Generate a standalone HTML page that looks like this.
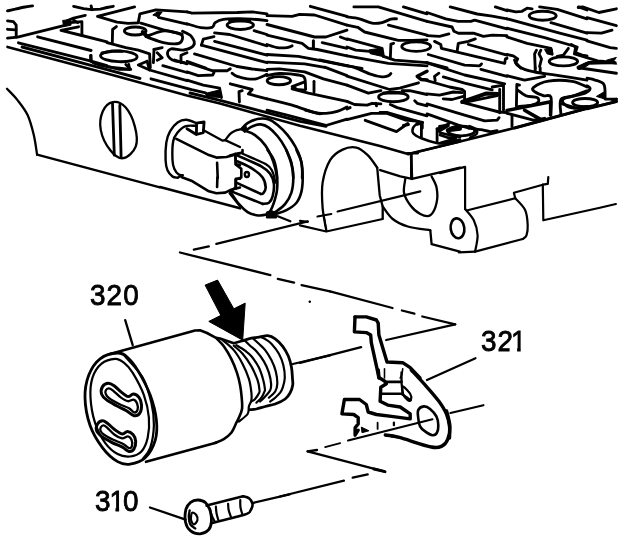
<!DOCTYPE html>
<html><head><meta charset="utf-8"><title>Valve body solenoid diagram</title>
<style>
html,body{margin:0;padding:0;background:#fff;}
body{width:640px;height:542px;overflow:hidden;font-family:"Liberation Sans",sans-serif;}
svg{display:block}
.l{fill:none;stroke:#000;stroke-width:2.3;stroke-linecap:round;stroke-linejoin:round}
.f{fill:#000;stroke:#000;stroke-width:1;stroke-linejoin:round}
text{font-family:"Liberation Sans",sans-serif;fill:#000}
</style></head><body>
<svg width="640" height="542" viewBox="0 0 640 542">
<rect width="640" height="542" fill="#fff"/>
<path class="l" style="stroke-width:2.85" d="M7.5,10.9 C8.8,10.6 12.2,9.8 15.1,9.2 C18.0,8.5 22.2,7.5 25.1,7.0 C28.0,6.5 31.4,6.1 32.6,5.9"/>
<path class="l" style="stroke-width:2.85" d="M73.6,6.4 L83.6,8.7 L91.6,9.7 L100.3,9.2 L107.0,7.5"/>
<path class="l" style="stroke-width:2.85" d="M91.1,5.9 L92.0,9.7"/>
<path class="l" style="stroke-width:2.85" d="M85.3,15.4 L73.6,18.1 L66.9,20.9"/>
<path class="f" d="M62.7,20.4 L70.2,19.7 L71.1,25.1 L63.5,26.8Z"/>
<path class="l" style="stroke-width:2.85" d="M70.2,22.6 L81.9,21.7 L81.9,35.5"/>
<path class="l" style="stroke-width:2.85" d="M73.6,20.1 L77.8,22.6"/>
<path class="l" style="stroke-width:2.85" d="M62.7,25.9 L17.6,37.1 L7.5,38.1"/>
<path class="l" style="stroke-width:2.85" d="M7.5,20.9 L13.4,21.7 L16.2,25.1 L16.2,37.1"/>
<path class="l" style="stroke-width:2.85" d="M7.5,29.3 L15.9,29.8"/>
<path class="l" style="stroke-width:2.85" d="M78.6,26.8 L61.0,30.4 L81.9,35.5 L107.0,41.8"/>
<path class="l" style="stroke-width:2.85" d="M37.6,36.8 L91.1,50.5"/>
<path class="l" style="stroke-width:2.85" d="M18.4,42.8 L91.1,61.2 L107.0,65.7"/>
<path class="l" style="stroke-width:2.85" d="M91.1,55.5 L91.1,61.5"/>
<path class="l" style="stroke-width:2.85" d="M107.0,7.5 L113.3,6.3"/>
<path class="l" style="stroke-width:2.85" d="M138.3,22.6 L139.9,13.8 L155.9,9.8 L187.0,11.9"/>
<path class="f" d="M152.8,15.0 L157.2,11.9 L162.2,11.9 L158.4,16.9Z"/>
<path class="l" style="stroke-width:2.85" d="M158.4,17.3 L187.0,24.1"/>
<path class="l" style="stroke-width:2.85" d="M140.9,23.2 L163.4,29.8 L182.2,34.1"/>
<ellipse class="l" style="stroke-width:2.85" cx="135.2" cy="31.0" rx="10.8" ry="4.0"/>
<path class="l" style="stroke-width:4" d="M142.7,32.0 L147.1,36.4"/>
<path class="l" style="stroke-width:2.85" d="M145.9,36.6 C148.6,35.7 157.4,31.8 162.2,31.1 C167.0,30.4 171.4,31.6 174.7,32.4 C178.0,33.2 181.1,34.1 182.2,35.7 C183.2,37.3 182.2,40.6 181.0,42.0 C179.8,43.4 177.6,43.8 174.7,43.9 C171.8,44.0 167.8,43.6 163.4,42.6 C159.0,41.6 150.9,38.4 148.4,37.6"/>
<path class="l" style="stroke-width:2.85" d="M116.4,26.6 L112.6,29.5 L112.3,43.3"/>
<path class="l" style="stroke-width:2.85" d="M107.0,42.6 L125.8,47.6 L138.3,50.2 L149.6,53.9 L150.3,67.7"/>
<path class="l" style="stroke-width:2.85" d="M154.0,49.5 L162.2,47.6"/>
<path class="l" style="stroke-width:2.85" d="M154.0,49.5 L153.4,62.7"/>
<path class="l" style="stroke-width:2.85" d="M157.2,52.7 L162.2,57.7 L157.2,60.2"/>
<path class="l" style="stroke-width:2.85" d="M181.0,62.7 L181.0,55.2 L187.0,52.7"/>
<path class="l" style="stroke-width:2.85" d="M187.0,11.9 L192.0,13.2 L237.2,12.5 L252.2,11.9 L267.0,13.8"/>
<path class="l" style="stroke-width:2.85" d="M187.0,23.8 C189.3,24.4 196.6,27.0 200.8,27.6 C205.0,28.2 209.7,28.1 212.1,27.3 C214.5,26.5 213.3,23.9 215.2,22.6 C217.1,21.3 219.3,20.1 223.4,19.4 C227.5,18.7 234.9,18.7 239.7,18.6 C244.5,18.6 247.6,18.8 252.2,19.1 C256.8,19.5 264.5,20.4 267.0,20.7"/>
<ellipse class="l" style="stroke-width:2.85" cx="240.3" cy="25.1" rx="13.2" ry="4.4"/>
<path class="l" style="stroke-width:3" d="M229.6,20.7 L249.7,20.7"/>
<path class="l" style="stroke-width:2.85" d="M214.6,32.9 L229.6,34.5 L267.0,45.8"/>
<path class="l" style="stroke-width:2.85" d="M254.1,30.7 L267.0,34.5"/>
<path class="l" style="stroke-width:2.85" d="M214.0,36.6 L203.3,39.1 L201.4,45.1"/>
<path class="l" style="stroke-width:2.85" d="M214.6,41.4 L267.0,55.2"/>
<path class="l" style="stroke-width:2.85" d="M201.4,45.1 L267.0,62.7"/>
<path class="l" style="stroke-width:2.85" d="M194.5,53.9 L237.2,66.5"/>
<path class="l" style="stroke-width:2.85" d="M187.0,61.4 L205.8,68.0"/>
<path class="l" style="stroke-width:2.85" d="M107.0,66.3 L119.5,69.4 L130.8,69.4 L125.8,64.4"/>
<path class="l" style="stroke-width:2.85" d="M147.1,61.3 L138.3,65.0 L149.6,70.0 L187.0,80.7"/>
<path class="l" style="stroke-width:2.85" d="M147.1,61.3 L149.6,70.0"/>
<path class="l" style="stroke-width:2.85" d="M162.8,65.6 L187.0,72.5"/>
<path class="l" style="stroke-width:2.85" d="M174.7,60.0 L187.0,63.8"/>
<path class="l" style="stroke-width:2.85" d="M187.0,62.5 L212.1,70.7 L227.1,70.7 L230.3,68.8"/>
<path class="l" style="stroke-width:2.85" d="M237.2,66.5 L252.2,69.0 L267.0,70.7"/>
<path class="l" style="stroke-width:2.85" d="M187.0,71.9 L198.3,75.7 L212.7,75.0 L214.0,72.5"/>
<path class="l" style="stroke-width:2.85" d="M232.1,73.2 C232.9,73.7 234.7,75.4 237.2,76.3 C239.7,77.2 244.1,78.4 247.2,78.8 C250.3,79.2 252.7,79.5 256.0,78.8 C259.3,78.1 265.2,75.1 267.0,74.4"/>
<path class="l" style="stroke-width:2.85" d="M187.0,80.1 L203.3,85.1 L219.6,88.2 L221.5,97.6"/>
<path class="f" d="M207.1,92.9 L214.0,91.3 L219.9,89.8 L221.1,97.6 L207.7,96.6Z"/>
<path class="l" style="stroke-width:2.85" d="M230.3,83.8 L252.2,89.5 L248.4,93.9 L267.0,98.9"/>
<path class="l" style="stroke-width:2.85" d="M242.2,90.7 L239.0,91.6 L239.4,102.0"/>
<path class="l" style="stroke-width:2.85" d="M310.3,6.3 L347.0,16.3"/>
<path class="l" style="stroke-width:2.85" d="M267.0,15.7 L292.1,16.3 L299.6,14.4 L314.6,15.0 L347.0,25.1"/>
<path class="l" style="stroke-width:2.85" d="M267.0,24.5 L314.6,37.0 L325.9,37.0 L347.0,30.1"/>
<path class="l" style="stroke-width:2.85" d="M267.0,35.1 L302.1,43.3 L308.4,48.3 L317.2,49.5 L347.0,55.8"/>
<path class="l" style="stroke-width:3" d="M313.4,40.8 L313.4,48.3"/>
<path class="l" style="stroke-width:2.85" d="M322.2,42.6 L347.0,48.3"/>
<path class="l" style="stroke-width:2.85" d="M340.4,37.0 L347.0,39.5"/>
<path class="l" style="stroke-width:2.85" d="M267.0,44.5 C268.7,45.0 273.6,47.1 277.0,47.6 C280.4,48.1 284.6,47.9 287.1,47.6 C289.6,47.3 291.3,46.1 292.1,45.8"/>
<path class="l" style="stroke-width:2.85" d="M267.0,54.5 L298.3,56.4 L324.7,61.4 L347.0,65.8"/>
<path class="l" style="stroke-width:2.85" d="M267.0,62.1 L304.6,63.9 L324.7,67.3"/>
<path class="l" style="stroke-width:2.85" d="M324.7,67.1 L347.0,75.7"/>
<path class="l" style="stroke-width:2.85" d="M319.7,60.0 L347.0,65.6"/>
<path class="l" style="stroke-width:2.85" d="M267.0,69.4 L279.5,68.8 L304.6,71.9 L323.4,78.8 L347.0,85.1"/>
<path class="l" style="stroke-width:2.85" d="M267.0,75.7 C269.1,75.3 274.3,73.6 279.5,73.5 C284.7,73.4 294.1,74.2 298.3,75.0 C302.5,75.8 303.4,75.8 304.6,78.2 C305.8,80.6 305.4,87.6 305.6,89.5"/>
<ellipse class="l" style="stroke-width:2.85" cx="278.9" cy="80.7" rx="11.7" ry="4.1"/>
<path class="l" style="stroke-width:2.85" d="M303.4,82.3 L292.1,86.6 L297.1,89.5 L304.6,90.1"/>
<path class="l" style="stroke-width:2.85" d="M314.0,81.3 L314.0,92.0"/>
<path class="l" style="stroke-width:2.85" d="M292.1,88.8 L308.4,93.2 L347.0,101.4"/>
<path class="l" style="stroke-width:2.85" d="M267.0,98.9 C271.2,99.9 284.2,102.8 292.1,105.1 C300.0,107.4 309.0,111.3 314.6,112.7 C320.2,114.1 322.1,113.5 325.9,113.3 C329.7,113.1 333.7,112.5 337.2,111.4 C340.7,110.4 345.4,107.7 347.0,107.0"/>
<path class="l" style="stroke-width:2.85" d="M267.0,110.2 L287.1,115.2 L325.9,125.5 L347.0,119.2"/>
<path class="l" style="stroke-width:2.85" d="M353.9,6.9 L378.3,6.9 L427.0,21.3"/>
<path class="l" style="stroke-width:2.85" d="M403.4,6.9 L427.0,13.8"/>
<path class="l" style="stroke-width:2.85" d="M347.0,16.9 C349.1,17.2 355.3,17.8 359.5,18.8 C363.7,19.9 368.3,22.6 372.1,23.2 C375.9,23.8 379.0,23.3 382.1,22.6 C385.2,21.9 388.5,19.7 390.9,19.1 C393.3,18.5 395.6,18.9 396.5,18.8"/>
<path class="l" style="stroke-width:2.85" d="M388.4,25.1 L427.0,35.1"/>
<path class="l" style="stroke-width:2.85" d="M347.0,25.1 L357.7,27.3 L364.6,32.0 L398.4,40.4 L412.2,40.4 L427.0,39.9"/>
<ellipse class="l" style="stroke-width:2.85" cx="416.2" cy="46.6" rx="14.4" ry="4.8"/>
<path class="l" style="stroke-width:2.85" d="M347.0,38.9 L382.1,48.3 L383.4,56.4"/>
<path class="f" d="M368.9,49.9 L382.1,48.0 L383.4,56.7 L370.2,53.7Z"/>
<path class="l" style="stroke-width:2.85" d="M393.6,43.3 L390.9,44.1 L390.3,58.9"/>
<path class="l" style="stroke-width:2.85" d="M347.0,47.0 L355.8,50.2 L369.6,51.4"/>
<path class="l" style="stroke-width:2.85" d="M347.0,55.8 L388.4,63.3 L427.0,65.8"/>
<path class="l" style="stroke-width:2.85" d="M383.4,56.4 L394.6,60.2 L427.0,62.7"/>
<path class="l" style="stroke-width:2.85" d="M347.0,65.8 L362.0,68.3"/>
<path class="l" style="stroke-width:2.85" d="M347.0,65.6 C348.2,65.9 350.7,65.9 354.5,67.3 C358.3,68.7 365.0,72.2 369.6,73.8 C374.2,75.4 379.0,76.6 382.1,76.9 C385.2,77.2 386.9,76.3 388.4,75.7 C389.9,75.1 390.5,73.9 390.9,73.5"/>
<path class="l" style="stroke-width:2.85" d="M347.0,76.1 L389.6,89.5 L399.7,88.2 L418.5,82.8"/>
<path class="l" style="stroke-width:2.85" d="M347.0,85.1 L368.3,93.2 L380.9,90.7"/>
<ellipse class="l" style="stroke-width:2.85" cx="393.4" cy="97.0" rx="14.8" ry="4.8"/>
<path class="l" style="stroke-width:3" d="M383.4,92.9 L403.4,92.9"/>
<path class="l" style="stroke-width:2.85" d="M402.2,90.7 L409.7,90.7 L427.0,94.5"/>
<path class="l" style="stroke-width:2.85" d="M347.0,101.4 L354.5,104.5 L367.1,105.1 L372.1,103.3 L380.9,103.9"/>
<path class="l" style="stroke-width:2.85" d="M375.8,103.3 L376.5,105.8"/>
<path class="l" style="stroke-width:2.85" d="M390.3,104.5 L397.2,107.6 L427.0,115.8"/>
<path class="l" style="stroke-width:2.85" d="M414.7,100.8 L417.2,103.3 L427.0,105.8"/>
<path class="l" style="stroke-width:2.85" d="M347.0,119.6 L371.5,113.3 L387.1,113.3 L405.9,120.2 L418.5,121.4"/>
<path class="l" style="stroke-width:3.5" d="M427.0,71.3 L417.2,76.3 L421.0,79.4 L427.0,80.1"/>
<path class="l" style="stroke-width:3" d="M347.0,108.9 L350.1,107.6"/>
<path class="l" style="stroke-width:3" d="M403.4,125.5 L408.4,124.6"/>
<path class="l" style="stroke-width:3" d="M417.2,124.2 L422.2,122.7 L422.2,128.0"/>
<path class="l" style="stroke-width:2.85" d="M450.2,6.9 L477.2,14.0 L492.2,16.1 L507.0,18.8"/>
<path class="l" style="stroke-width:2.85" d="M495.3,6.9 L507.0,10.7"/>
<path class="l" style="stroke-width:2.85" d="M427.0,12.5 L445.8,18.8 L458.3,21.3 L470.9,21.3 L474.6,20.1 L507.0,28.8"/>
<path class="l" style="stroke-width:2.85" d="M427.0,21.3 L452.1,27.0 L454.0,31.3 L458.3,33.2 L473.4,33.2 L483.4,36.4 L492.2,35.1 L507.0,35.7"/>
<path class="l" style="stroke-width:2.85" d="M427.0,35.7 L439.5,36.4 L448.9,33.9"/>
<path class="l" style="stroke-width:2.85" d="M475.3,38.9 L468.4,41.4 L458.3,43.3 L457.1,51.4"/>
<path class="l" style="stroke-width:2.85" d="M434.5,41.4 L440.8,44.5 L441.4,48.3 L504.7,63.3 L505.4,58.9 L507.0,58.3"/>
<path class="l" style="stroke-width:2.85" d="M468.4,44.5 L507.0,55.2"/>
<path class="l" style="stroke-width:2.85" d="M428.3,54.5 L464.6,65.2 L479.7,65.8 L481.5,63.9"/>
<path class="l" style="stroke-width:2.85" d="M427.0,62.7 L447.1,68.0"/>
<path class="l" style="stroke-width:2.85" d="M427.0,62.8 L464.6,75.0 L504.7,83.8"/>
<path class="l" style="stroke-width:2.85" d="M480.9,69.4 L507.0,76.3"/>
<path class="l" style="stroke-width:2.85" d="M438.9,73.2 L434.5,76.3 L435.2,80.7"/>
<path class="l" style="stroke-width:2.85" d="M427.0,80.7 L449.6,87.0 L462.1,89.5 L464.6,91.3 L464.6,100.1"/>
<path class="l" style="stroke-width:2.85" d="M443.3,76.9 L464.6,83.2 L492.2,89.8"/>
<path class="l" style="stroke-width:2.85" d="M492.2,87.0 L503.5,85.1 L503.5,110.2"/>
<path class="l" style="stroke-width:2.85" d="M499.7,89.5 L499.7,112.7"/>
<path class="l" style="stroke-width:2.85" d="M463.4,102.6 L499.1,112.0 L507.0,112.7"/>
<path class="l" style="stroke-width:4" d="M462.1,102.0 L485.9,93.6 L497.8,94.1"/>
<path class="l" style="stroke-width:2.85" d="M463.4,102.6 L497.2,95.7"/>
<path class="l" style="stroke-width:2.85" d="M427.0,93.9 L439.5,95.1 L453.3,92.0 L462.1,92.6"/>
<path class="l" style="stroke-width:2.85" d="M443.3,98.9 L452.1,99.5 L463.4,96.4"/>
<path class="l" style="stroke-width:2.85" d="M427.0,103.9 L464.6,115.2 L484.7,120.8 L497.2,120.2 L499.1,117.7"/>
<path class="l" style="stroke-width:2.85" d="M427.0,113.9 L458.3,125.2 L468.4,128.0"/>
<path class="l" style="stroke-width:2.85" d="M439.5,126.5 L447.1,125.2"/>
<path class="l" style="stroke-width:2.85" d="M507.0,10.0 L515.8,11.9 L522.0,11.3 L527.1,8.2 L532.1,8.8"/>
<path class="l" style="stroke-width:2.85" d="M539.6,6.9 L557.2,9.4 L587.0,18.8"/>
<ellipse class="l" style="stroke-width:2.85" cx="542.7" cy="15.7" rx="13.5" ry="4.5"/>
<path class="l" style="stroke-width:2.85" d="M578.5,6.9 L587.0,10.0"/>
<path class="l" style="stroke-width:2.85" d="M550.9,22.6 L587.0,33.2"/>
<path class="l" style="stroke-width:2.85" d="M507.0,18.8 L559.7,33.2 L587.0,40.1"/>
<path class="l" style="stroke-width:2.85" d="M507.0,28.2 L544.6,37.6 L577.2,47.0 L575.3,52.7 L582.2,55.2 L587.0,55.8"/>
<path class="l" style="stroke-width:2.85" d="M507.0,37.0 L527.1,43.3 L550.9,48.3 L552.1,53.9"/>
<path class="f" d="M544.6,49.5 L552.1,48.9 L552.8,55.2 L547.1,53.9Z"/>
<path class="l" style="stroke-width:2.85" d="M568.4,48.3 L563.4,55.2 L557.2,56.4"/>
<ellipse class="l" style="stroke-width:2.85" cx="563.4" cy="61.4" rx="14.2" ry="4.5"/>
<path class="l" style="stroke-width:2.85" d="M507.0,54.5 L513.3,55.8 L517.7,58.9 L515.8,62.7 L520.8,68.0"/>
<path class="l" style="stroke-width:2.85" d="M536.5,50.2 L534.6,53.9 L535.2,68.0"/>
<path class="l" style="stroke-width:2.85" d="M540.9,50.2 L539.0,53.9 L541.5,58.9 L539.6,66.5"/>
<path class="l" style="stroke-width:4" d="M579.7,68.0 L587.0,63.9"/>
<path class="l" style="stroke-width:2.85" d="M514.5,60.0 C514.9,60.8 515.3,63.4 517.0,65.0 C518.7,66.6 521.2,68.2 524.6,69.4 C528.0,70.7 531.7,71.5 537.1,72.5 C542.5,73.5 548.9,74.0 557.2,75.3 C565.5,76.6 582.0,79.3 587.0,80.1"/>
<path class="l" style="stroke-width:2.85" d="M540.2,67.8 L540.2,71.9"/>
<path class="l" style="stroke-width:2.85" d="M535.2,67.8 L535.2,71.9"/>
<path class="l" style="stroke-width:2.85" d="M507.0,75.7 L524.6,80.1 L544.6,76.3"/>
<path class="l" style="stroke-width:2.85" d="M550.9,115.2 C550.9,112.2 552.1,100.2 550.9,97.0 C549.6,93.8 546.0,96.5 543.4,95.7 C540.8,94.9 536.9,93.3 535.2,92.0 C533.5,90.7 531.1,89.4 533.3,87.6 C535.5,85.8 541.9,82.1 548.4,81.1 C554.9,80.0 565.8,80.3 572.2,81.3 C578.6,82.3 584.5,86.0 587.0,87.0"/>
<path class="l" style="stroke-width:2.85" d="M560.9,113.9 C560.9,111.5 559.0,102.4 560.9,99.5 C562.8,96.6 567.9,97.9 572.2,96.4 C576.6,94.9 584.5,91.7 587.0,90.7"/>
<path class="l" style="stroke-width:2.85" d="M519.5,85.1 L516.8,84.5 L516.4,106.4"/>
<path class="l" style="stroke-width:2.85" d="M517.7,90.1 C519.1,91.0 522.6,94.5 525.8,95.7 C529.0,97.0 535.0,96.5 537.1,97.6 C539.2,98.6 539.1,100.8 538.3,102.0 C537.5,103.2 535.4,104.3 532.1,105.1 C528.8,105.9 520.6,106.3 518.3,106.6"/>
<path class="l" style="stroke-width:3.5" d="M507.0,110.4 L549.6,102.0"/>
<path class="l" style="stroke-width:2.85" d="M550.3,102.0 L550.3,115.2"/>
<path class="l" style="stroke-width:3.6" d="M524.6,110.2 L539.6,118.9"/>
<path class="l" style="stroke-width:2.85" d="M512.0,115.2 L512.0,126.5"/>
<path class="l" style="stroke-width:2.85" d="M514.5,128.0 L587.0,108.3"/>
<path class="l" style="stroke-width:2.85" d="M507.0,113.3 L533.3,120.2 L544.6,118.3"/>
<path class="l" style="stroke-width:2.85" d="M562.2,103.9 L577.2,108.3 L587.0,106.4"/>
<path class="l" style="stroke-width:4" d="M578.5,67.5 L587.0,63.8"/>
<path class="l" style="stroke-width:2.85" d="M578.2,7.5 L582.6,6.9 L598.9,12.5 L616.4,8.8"/>
<path class="l" style="stroke-width:2.85" d="M587.0,17.6 L616.4,25.7"/>
<path class="l" style="stroke-width:2.85" d="M587.0,32.6 L601.4,33.2 L612.0,30.1"/>
<path class="l" style="stroke-width:2.85" d="M587.0,40.8 L610.2,47.6 L616.4,48.3"/>
<path class="l" style="stroke-width:2.85" d="M571.3,44.5 L575.7,47.0 L574.4,53.9 L597.6,60.8 L603.9,61.4"/>
<path class="f" d="M606.4,60.2 L616.4,57.4 L613.9,60.8 L616.7,64.2 L607.6,62.9Z"/>
<path class="l" style="stroke-width:3.5" d="M578.8,68.0 L588.8,62.7 L606.4,62.1"/>
<path class="l" style="stroke-width:2.9" d="M615.2,62.8 L588.8,63.1 L578.8,67.8 L616.4,73.2"/>
<path class="l" style="stroke-width:2.85" d="M587.0,78.2 C588.4,78.5 592.3,79.0 595.1,80.1 C597.9,81.1 602.2,81.6 603.9,84.5 C605.6,87.4 604.9,95.4 605.1,97.6"/>
<path class="l" style="stroke-width:2.85" d="M587.0,85.7 C587.5,86.2 590.4,87.5 590.1,88.8 C589.8,90.0 589.1,91.7 585.1,93.2 C581.1,94.7 570.1,96.2 566.3,97.6 C562.5,99.0 562.3,99.9 562.5,101.4 C562.7,102.9 565.4,105.2 567.5,106.4 C569.6,107.6 573.8,108.0 575.0,108.3"/>
<ellipse class="l" style="stroke-width:2.85" cx="585.1" cy="102.6" rx="12.5" ry="4.1"/>
<path class="f" d="M596.4,96.4 L603.9,92.0 L604.9,99.1Z"/>
<path class="l" style="stroke-width:2.85" d="M605.1,99.1 L616.4,99.1"/>
<path class="f" d="M610.2,99.1 L617.1,98.2 L617.1,102.0 L613.9,102.6Z"/>
<path class="l" style="stroke-width:2.85" d="M587.0,108.9 L616.4,101.6"/>
<path class="l" d="M7.0,88.8 C8.8,90.7 14.1,95.7 17.5,100.1 C20.9,104.5 24.9,109.3 27.6,115.1 C30.3,120.9 32.2,128.5 33.8,135.1 C35.4,141.7 36.5,151.4 37.1,154.7"/>
<path class="l" d="M37.1,154.7 L159.9,187.3"/>
<path class="l" d="M112.8,102.1 C116.5,101.4 121.6,103.0 125.3,107.1 C129.0,111.1 133.1,119.9 134.8,126.4 C136.6,133.0 137.7,141.1 135.8,146.4 C133.9,151.7 127.5,157.6 123.3,158.2 C119.0,158.8 114.0,154.9 110.3,150.2 C106.5,145.5 102.0,136.6 100.8,130.1 C99.5,123.6 100.8,116.0 102.8,111.3 C104.8,106.6 109.0,102.8 112.8,102.1Z"/>
<path class="l" style="stroke-width:2.8" d="M112.5,103.1 L114.3,155.2"/>
<path class="l" style="stroke-width:2.8" d="M119.8,105.1 L121.1,157.2"/>
<path class="l" style="stroke-width:2.4" d="M196.4,123.2 C194.7,122.6 189.4,119.9 186.3,119.8 C183.2,119.7 180.3,120.6 177.6,122.5 C174.9,124.4 171.9,128.0 170.0,131.3 C168.1,134.7 167.0,137.8 166.3,142.6 C165.6,147.4 165.4,155.6 165.6,160.2 C165.8,164.8 166.3,167.5 167.5,170.2 C168.7,172.9 170.8,175.2 172.5,176.5 C174.2,177.8 176.8,177.5 177.6,177.7"/>
<path class="l" style="stroke-width:2.4" d="M195.1,125.7 C193.4,125.8 188.0,125.2 185.1,126.3 C182.2,127.4 179.6,130.1 177.6,132.6 C175.6,135.1 174.0,136.7 173.2,141.3 C172.3,145.9 172.3,155.6 172.5,160.2 C172.7,164.8 173.3,166.5 174.4,168.9 C175.5,171.3 177.4,173.6 178.8,174.6 C180.2,175.6 182.0,175.1 182.6,175.2"/>
<path class="l" style="stroke-width:2.4" d="M177.6,177.7 L182.6,175.2"/>
<path class="l" style="stroke-width:2.85" d="M187.0,128.8 L196.4,134.5 L203.3,132.6 L204.1,121.9 L196.6,123.2 L196.4,134.5"/>
<path class="l" d="M204.5,130.7 L222.7,140.7 L225.2,140.1 L240.0,147.0"/>
<path class="l" d="M225.2,140.1 C226.0,139.1 228.5,135.4 230.2,133.8 C231.9,132.2 233.6,131.4 235.2,130.7 C236.8,130.0 239.2,129.6 240.0,129.4"/>
<path class="l" style="stroke-width:2.6" d="M176.3,138.8 L208.9,155.1 L216.4,157.6 L226.5,157.0 L240.0,153.3"/>
<path class="l" style="stroke-width:2.6" d="M217.1,162.7 L217.7,178.0"/>
<path class="l" style="stroke-width:2.6" d="M235.2,153.9 L235.9,163.9 L240.0,165.2"/>
<path class="l" style="stroke-width:2.85" d="M305.2,110.0 L320.0,113.8"/>
<path class="l" style="stroke-width:2.6" d="M241.3,129.4 C242.3,128.4 244.6,125.0 247.5,123.2 C250.4,121.4 255.2,119.4 258.8,118.8 C262.4,118.2 265.7,118.4 268.8,119.4 C271.9,120.4 274.5,122.4 277.6,125.0 C280.7,127.6 284.7,131.5 287.6,135.1 C290.5,138.7 293.1,142.7 295.2,146.4 C297.3,150.2 299.0,153.8 300.2,157.6 C301.4,161.3 301.8,165.5 302.1,168.9 C302.4,172.3 302.1,176.5 302.1,178.0"/>
<path class="l" style="stroke-width:2.6" d="M246.3,130.1 C247.3,129.5 250.1,127.2 252.5,126.3 C254.9,125.3 258.0,124.2 260.7,124.4 C263.4,124.6 266.0,125.6 268.8,127.6 C271.6,129.6 274.9,133.0 277.6,136.3 C280.3,139.6 283.0,143.6 285.1,147.6 C287.2,151.6 288.9,156.4 290.2,160.2 C291.5,164.0 292.2,167.2 292.7,170.2 C293.2,173.2 293.2,176.7 293.3,178.0"/>
<path class="l" style="stroke-width:2.6" d="M245.0,130.7 C246.7,131.4 251.7,132.7 255.0,135.1 C258.4,137.5 262.4,141.5 265.1,145.1 C267.8,148.7 269.6,152.6 271.3,156.4 C273.0,160.2 274.2,164.1 275.1,167.7 C276.1,171.3 276.7,176.3 277.0,178.0"/>
<path class="f" d="M240.6,128.8 L245.6,125.0 L247.5,130.7 L244.4,132.6Z"/>
<path class="l" style="stroke-width:2.6" d="M181.9,177.3 L191.3,180.7 L208.9,191.3 L216.4,193.2 L225.2,192.6 L230.2,190.1 L240.0,187.6"/>
<path class="l" style="stroke-width:2.6" d="M217.4,177.6 L217.1,187.0"/>
<path class="l" style="stroke-width:2.6" d="M160.0,187.0 L240.0,208.3"/>
<path class="l" style="stroke-width:2.2" d="M229.6,193.2 L240.0,206.4"/>
<path class="l" style="stroke-width:2.6" d="M235.9,188.8 L235.9,178.8 L240.0,178.8"/>
<path class="l" style="stroke-width:2.6" d="M296.5,150.0 C297.3,152.1 300.5,157.9 301.5,162.5 C302.5,167.1 302.7,172.8 302.7,177.6 C302.7,182.4 302.5,187.2 301.5,191.4 C300.5,195.6 299.0,199.6 296.5,202.7 C294.0,205.8 289.8,208.3 286.4,210.2 C283.0,212.1 278.1,213.3 276.4,213.9"/>
<path class="l" style="stroke-width:2.6" d="M286.4,150.0 C287.2,152.1 290.2,157.9 291.4,162.5 C292.5,167.1 293.3,172.6 293.3,177.6 C293.3,182.6 292.8,188.2 291.4,192.6 C290.0,197.0 287.7,200.8 285.2,203.9 C282.7,207.0 278.7,209.7 276.4,211.4 C274.1,213.1 272.2,213.5 271.4,213.9"/>
<path class="l" style="stroke-width:2.6" d="M267.6,150.0 C268.7,151.7 272.3,155.8 273.9,160.0 C275.5,164.2 276.5,170.1 277.0,175.1 C277.5,180.1 277.5,185.5 277.0,190.1 C276.5,194.7 275.0,199.1 273.9,202.7 C272.8,206.2 271.4,209.4 270.1,211.4 C268.9,213.4 268.7,214.0 266.4,214.6 C264.1,215.2 259.4,215.6 256.3,215.2 C253.2,214.8 250.5,214.0 247.6,212.1 C244.7,210.2 241.5,207.0 238.8,203.9 C236.1,200.8 232.6,195.1 231.3,193.3"/>
<path class="f" d="M266.4,212.1 L271.4,210.2 L276.6,213.3 L276.6,218.0 L266.4,218.0Z"/>
<path class="l" style="stroke-width:2.6" d="M237.5,155.6 C241.5,157.4 255.9,163.3 261.3,166.3 C266.7,169.3 268.0,170.9 270.1,173.8 C272.2,176.7 273.5,180.1 273.9,183.9 C274.3,187.7 273.4,193.3 272.6,196.4 C271.8,199.5 270.6,201.4 268.9,202.7 C267.2,203.9 263.7,203.7 262.6,203.9"/>
<path class="l" style="stroke-width:2.6" d="M262.6,203.9 L231.3,191.4"/>
<path class="l" d="M242.5,153.8 C246.5,155.6 261.4,161.4 266.4,164.4 C271.4,167.4 271.1,168.9 272.6,171.9 C274.1,174.9 274.9,180.8 275.4,182.6"/>
<path class="l" style="stroke-width:2.6" d="M237.5,161.3 C240.0,162.6 248.4,166.1 252.6,168.8 C256.8,171.5 260.4,174.5 262.6,177.6 C264.8,180.7 265.6,185.0 265.7,187.6 C265.8,190.2 264.0,192.2 263.2,193.3 C262.4,194.4 261.1,193.8 260.7,193.9"/>
<path class="l" style="stroke-width:2.6" d="M260.7,193.9 L236.3,182.6"/>
<path class="l" style="stroke-width:2.6" d="M242.5,150.0 L242.5,152.5 L235.6,154.0 L230.0,155.6"/>
<path class="l" style="stroke-width:2.6" d="M235.6,157.5 L235.6,164.4 L241.3,168.8 L241.3,177.6 L235.6,179.5 L235.6,187.6 L230.0,191.4"/>
<ellipse class="l" style="stroke-width:2.4" cx="246.9" cy="174.5" rx="2.1" ry="2.5"/>
<path class="l" style="stroke-width:2.6" d="M7.5,46.9 L107.0,73.4 L187.0,95.6 L220.0,103.6 L245.0,110.5 L300.0,125.8 L380.0,146.0 L408.0,154.0"/>
<path class="l" style="stroke-width:2.85" d="M22.0,47.0 L107.0,69.6 L140.0,78.5"/>
<path class="l" style="stroke-width:2.85" d="M190.0,93.0 L220.0,100.3 L300.0,121.3 L326.0,126.3"/>
<path class="l" style="stroke-width:2.85" d="M151.0,78.8 L191.6,89.7 L205.6,92.8 L207.5,95.5"/>
<path class="l" style="stroke-width:2.4" d="M408.3,154.1 L459.9,141.6"/>
<path class="l" style="stroke-width:2.6" d="M411.0,153.8 L412.0,178.9"/>
<path class="l" style="stroke-width:2.4" d="M380.2,170.1 L400.3,176.4 L412.0,178.9 L459.9,167.6"/>
<path class="l" d="M326.3,230.3 C325.7,226.5 323.2,215.6 322.6,207.7 C322.0,199.8 321.4,190.6 322.6,182.7 C323.9,174.8 326.8,165.6 330.1,160.1 C333.4,154.6 338.2,151.7 342.6,149.6 C347.0,147.5 352.2,146.7 356.4,147.6 C360.6,148.5 364.2,151.8 367.7,155.1 C371.2,158.4 375.6,165.5 377.2,167.6"/>
<path class="l" d="M377.2,167.6 L379.7,195.2 L382.7,206.5 L382.7,218.2"/>
<path class="l" d="M300.0,225.3 L326.3,231.5 L382.7,219.0"/>
<path class="l" style="stroke-width:2.2" d="M337.6,211.5 L420.3,191.4"/>
<path class="l" style="stroke-width:2.2" d="M317.5,216.5 L331.3,214.0"/>
<path class="l" style="stroke-width:2.2" d="M300.0,220.8 L307.5,221.8"/>
<path class="l" style="stroke-width:1.6" d="M324.3,218.2 L326.3,230.3"/>
<path class="l" d="M405.3,178.9 C405.1,181.2 403.2,188.3 404.0,192.7 C404.8,197.1 407.6,201.6 410.3,205.2 C413.0,208.8 417.0,212.3 420.3,214.0 C423.6,215.7 427.6,217.1 430.3,215.2 C433.0,213.3 435.6,207.3 436.6,202.7 C437.7,198.1 437.4,192.1 436.6,187.7 C435.8,183.3 432.4,178.3 431.6,176.4"/>
<path class="l" d="M382.7,206.5 C384.4,208.6 388.5,215.7 392.7,219.0 C396.9,222.3 401.5,224.6 407.8,226.5 C414.1,228.4 426.6,229.7 430.3,230.3"/>
<path class="l" d="M430.3,230.3 L431.6,244.1 L459.9,251.6"/>
<path class="l" style="stroke-width:2.6" d="M407.6,153.3 L417.6,153.3"/>
<path class="l" style="stroke-width:2.6" d="M411.3,153.9 L411.3,178.0"/>
<path class="l" style="stroke-width:2.6" d="M417.6,123.2 C416.9,123.9 413.9,125.9 413.2,127.6 C412.5,129.3 411.8,131.4 413.2,133.2 C414.6,135.0 417.5,136.6 421.4,138.2 C425.3,139.8 432.4,142.1 436.4,142.9 C440.4,143.7 441.3,143.8 445.2,143.2 C449.1,142.6 457.5,140.1 460.0,139.5"/>
<path class="l" style="stroke-width:2.8" d="M421.4,122.5 L421.4,137.0"/>
<path class="l" style="stroke-width:2.8" d="M437.1,128.8 L437.1,141.3"/>
<path class="l" style="stroke-width:2.85" d="M437.1,128.8 L442.7,127.6"/>
<path class="l" style="stroke-width:3" d="M438.9,131.1 L448.3,125.7"/>
<path class="l" style="stroke-width:4" d="M447.7,130.3 L460.0,128.8"/>
<path class="l" style="stroke-width:2.6" d="M440.2,132.8 L450.2,135.3 L460.0,137.0"/>
<path class="l" style="stroke-width:2.85" d="M380.0,112.5 L387.5,112.5 L417.6,121.3 L422.6,122.5"/>
<path class="l" style="stroke-width:2.2" d="M440.0,173.1 L465.1,166.9 L465.1,209.0"/>
<path class="l" style="stroke-width:2.2" d="M467.6,210.2 L515.2,198.2"/>
<path class="l" style="stroke-width:2.2" d="M475.1,251.6 L522.7,239.0"/>
<path class="l" style="stroke-width:2.2" d="M465.1,209.0 C466.6,210.9 471.7,215.9 473.8,220.3 C475.9,224.7 477.4,230.1 477.6,235.3 C477.8,240.5 475.5,248.9 475.1,251.6"/>
<path class="l" style="stroke-width:2.2" d="M515.2,198.2 C516.9,200.2 523.1,205.7 525.2,210.2 C527.3,214.7 527.5,221.1 527.7,225.3 C527.9,229.5 527.3,233.0 526.5,235.3 C525.7,237.6 523.3,238.4 522.7,239.0"/>
<path class="l" style="stroke-width:2.2" d="M515.2,198.2 L513.9,192.7 L542.8,184.7 L547.8,183.9 L548.3,177.1"/>
<path class="l" style="stroke-width:2.2" d="M542.8,184.7 L543.3,220.3 L599.9,207.7 L615.9,204.0"/>
<ellipse class="l" style="stroke-width:2.6" cx="457.5" cy="228.3" rx="6.8" ry="10.0" transform="rotate(-8 457.5 228.3)"/>
<path class="l" style="stroke-width:2.2" d="M458.8,252.3 L475.1,251.6"/>
<path class="l" style="stroke-width:2.6" d="M408.3,154.0 L460.0,141.5 L514.5,128.0 L587.0,108.5 L616.5,101.5"/>
<ellipse class="l" style="stroke-width:2.85" cx="461.3" cy="131.0" rx="13.5" ry="4.8"/>
<path class="l" style="stroke-width:2.6" d="M440.0,143.0 L455.7,138.6"/>
<path class="l" style="stroke-width:2.6" d="M469.5,126.1 C470.5,126.6 474.5,127.8 475.7,129.1 C476.9,130.4 477.5,132.5 476.6,133.9 C475.7,135.3 471.2,137.0 470.1,137.6"/>
<path class="l" style="stroke-width:2.85" d="M468.5,128.1 C470.6,128.4 477.8,129.1 481.4,129.7 C485.0,130.3 487.6,131.4 490.2,131.6 C492.8,131.8 496.0,130.8 497.1,130.7"/>
<path class="l" style="stroke-width:2.85" d="M440.0,128.6 L446.3,125.1 L448.8,123.8"/>
<path class="l" style="stroke-width:2.6" d="M440.0,135.1 L447.5,137.6 L456.3,137.6"/>
<path class="l" style="stroke-width:2.8" d="M117.6,353.0 C113.0,353.2 104.9,355.1 100.1,358.8 C95.3,362.5 91.3,368.6 88.8,375.1 C86.3,381.6 84.8,389.2 85.0,397.6 C85.2,406.0 87.1,416.8 90.0,425.2 C92.9,433.6 98.0,441.7 102.6,447.8 C107.2,453.9 113.0,458.9 117.6,461.6 C122.2,464.3 125.5,464.7 130.1,464.1 C134.7,463.5 141.0,461.8 145.2,457.8 C149.4,453.8 153.3,446.6 155.2,440.3 C157.1,434.0 157.2,427.7 156.4,420.2 C155.6,412.7 153.3,403.5 150.2,395.1 C147.1,386.8 141.4,376.4 137.6,370.1 C133.8,363.8 130.9,360.4 127.6,357.5 C124.3,354.6 122.2,352.8 117.6,353.0Z"/>
<path class="l" style="stroke-width:2.2" d="M115.1,358.8 C111.3,359.0 105.1,360.7 101.3,363.8 C97.5,366.9 94.3,372.0 92.5,377.6 C90.7,383.2 90.1,390.1 90.5,397.6 C90.9,405.1 92.6,415.2 95.0,422.7 C97.4,430.2 101.3,437.6 105.1,442.8 C108.9,448.0 113.4,451.7 117.6,454.0 C121.8,456.3 126.1,456.9 130.1,456.5 C134.1,456.1 138.5,454.6 141.4,451.5 C144.3,448.4 146.4,443.3 147.7,437.7 C148.9,432.1 149.5,424.8 148.9,417.7 C148.3,410.6 146.6,402.6 143.9,395.1 C141.2,387.6 135.9,378.0 132.6,372.6 C129.3,367.2 126.8,364.9 123.9,362.6 C121.0,360.3 118.9,358.6 115.1,358.8Z"/>
<path class="l" style="stroke-width:2.2" d="M125.1,356.3 C128.0,359.9 138.3,369.9 142.7,377.6 C147.1,385.3 149.5,394.8 151.4,402.7 C153.3,410.6 154.1,417.7 153.9,425.2 C153.7,432.7 152.1,442.2 150.2,447.8 C148.3,453.4 143.9,457.1 142.7,459.0"/>
<path class="l" style="stroke-width:2.6" d="M146.0,461.8 L216.0,442.8"/>
<path class="l" style="stroke-width:3" d="M102.5,386.6 C103.6,384.8 106.4,383.4 108.3,383.3 C110.2,383.2 111.9,384.3 114.1,385.8 C116.3,387.3 119.2,390.6 121.6,392.4 C123.9,394.2 126.3,396.3 128.2,396.6 C130.1,396.9 131.4,394.0 133.2,394.1 C135.0,394.2 137.6,395.6 139.0,397.4 C140.4,399.2 141.4,402.3 141.5,404.9 C141.6,407.5 141.1,411.4 139.8,413.2 C138.6,415.0 136.2,416.1 134.0,415.7 C131.8,415.3 129.4,412.4 126.5,410.7 C123.6,409.0 119.9,407.5 116.6,405.7 C113.3,403.9 109.1,401.8 106.6,399.9 C104.1,398.0 102.3,396.3 101.6,394.1 C100.9,391.9 101.4,388.4 102.5,386.6Z"/>
<path class="l" d="M105.8,390.3 C106.3,389.3 107.8,388.2 109.1,388.3 C110.3,388.4 111.4,389.3 113.3,390.8 C115.2,392.3 118.3,395.7 120.7,397.4 C123.1,399.1 125.8,400.8 127.9,401.2 C130.0,401.6 132.0,399.3 133.5,399.6 C135.0,399.9 136.3,401.5 137.0,403.2 C137.7,404.9 138.0,408.4 137.5,409.9 C137.0,411.4 135.6,412.7 134.2,412.4 C132.8,412.1 131.5,409.6 129.0,408.2 C126.5,406.8 122.4,405.8 119.1,404.1 C115.8,402.4 111.3,399.9 109.1,398.2 C106.9,396.5 106.3,395.4 105.8,394.1 C105.2,392.8 105.2,391.3 105.8,390.3Z"/>
<path class="l" style="stroke-width:3" d="M97.5,424.0 C98.5,422.4 100.8,420.8 102.5,420.7 C104.2,420.6 105.3,421.7 107.4,423.2 C109.5,424.7 112.4,428.0 114.9,429.8 C117.4,431.6 120.3,433.7 122.4,434.0 C124.5,434.3 125.6,431.4 127.4,431.5 C129.2,431.6 131.8,433.2 133.2,434.8 C134.6,436.4 135.6,439.0 135.7,441.4 C135.8,443.8 135.1,447.2 134.0,448.9 C132.9,450.6 130.9,451.7 129.0,451.4 C127.1,451.1 125.3,448.7 122.4,447.2 C119.5,445.7 115.1,444.1 111.6,442.3 C108.1,440.5 104.1,438.3 101.6,436.4 C99.1,434.4 97.3,432.7 96.6,430.6 C95.9,428.5 96.5,425.6 97.5,424.0Z"/>
<path class="l" d="M100.8,427.3 C101.3,426.4 102.5,425.2 103.6,425.3 C104.7,425.4 105.6,426.2 107.4,427.8 C109.2,429.4 112.1,433.0 114.6,434.8 C117.0,436.6 119.9,438.1 122.1,438.4 C124.3,438.7 126.3,436.2 127.9,436.4 C129.5,436.6 130.8,438.2 131.5,439.8 C132.2,441.4 132.3,444.7 131.9,446.1 C131.5,447.5 130.4,448.5 129.0,448.1 C127.5,447.7 125.8,445.3 123.2,443.9 C120.6,442.5 116.5,441.3 113.3,439.8 C110.1,438.3 106.2,436.3 104.1,434.8 C102.0,433.3 101.0,431.9 100.5,430.6 C100.0,429.4 100.3,428.2 100.8,427.3Z"/>
<path class="l" style="stroke-width:2.6" d="M110.0,354.0 L195.0,330.5 L200.0,330.3 L207.0,333.0 L216.0,337.8 L220.0,338.5 L233.8,343.2 L242.6,340.7"/>
<path class="l" d="M125.2,320.1 L132.7,345.2"/>
<path class="f" d="M205.1,285.1 L217.6,280.1 L233.9,308.9 L221.4,316.4Z"/>
<path class="f" d="M208.8,321.4 L245.2,303.1 L242.7,340.2Z"/>
<path class="l" style="stroke-width:2.6" d="M216.3,338.2 C217.6,339.6 221.3,342.9 223.8,346.3 C226.3,349.8 229.1,354.5 231.3,358.9 C233.5,363.3 235.4,368.2 236.9,372.6 C238.4,377.0 239.3,381.0 240.1,385.2 C240.9,389.4 241.4,393.7 241.7,397.7 C242.0,401.7 242.5,405.6 242.0,409.0 C241.5,412.4 239.8,415.5 238.8,417.8 C237.9,420.1 237.6,420.3 236.3,422.8 C235.1,425.3 233.4,430.1 231.3,432.8 C229.2,435.5 226.5,437.4 223.8,439.1 C221.1,440.8 216.5,442.3 215.0,442.9"/>
<path class="l" style="stroke-width:2.2" d="M222.5,340.0 C224.4,341.7 230.5,346.1 233.8,350.1 C237.2,354.1 240.1,359.1 242.6,363.9 C245.1,368.7 247.4,374.1 248.9,378.9 C250.4,383.7 251.0,389.1 251.4,392.7 C251.8,396.2 251.8,397.9 251.4,400.2 C251.0,402.5 249.5,404.2 248.9,406.5 C248.3,408.8 249.3,411.5 247.6,414.0 C245.9,416.5 240.3,420.3 238.8,421.6"/>
<path class="l" style="stroke-width:2.2" d="M233.8,345.7 C235.3,347.1 239.7,350.4 242.6,353.8 C245.5,357.2 248.9,362.0 251.4,366.4 C253.9,370.8 256.2,376.2 257.6,380.2 C259.0,384.2 259.3,388.0 259.5,390.2 C259.7,392.4 259.6,391.8 258.9,393.3 C258.2,394.8 256.3,397.6 255.1,399.0 C253.8,400.4 252.0,401.1 251.4,401.5"/>
<path class="l" style="stroke-width:2.2" d="M236.3,345.1 C237.8,346.0 242.6,348.8 245.1,350.7 C247.6,352.6 249.1,353.5 251.4,356.3 C253.7,359.1 256.9,363.6 258.9,367.6 C260.9,371.6 262.3,376.6 263.3,380.2 C264.3,383.8 264.7,387.0 264.9,388.9 C265.1,390.8 265.1,390.0 264.5,391.5 C263.9,393.0 262.8,395.8 261.4,397.7 C260.0,399.6 257.2,401.9 256.4,402.7"/>
<path class="l" style="stroke-width:2.2" d="M244.5,340.3 C245.4,341.2 248.1,343.9 250.1,345.7 C252.1,347.5 254.1,348.7 256.4,351.3 C258.7,353.9 261.8,357.8 263.9,361.4 C266.0,364.9 267.7,368.9 268.9,372.6 C270.1,376.4 270.9,381.0 271.1,383.9 C271.3,386.8 271.2,388.1 270.2,390.2 C269.2,392.3 266.9,394.6 265.2,396.5 C263.5,398.4 261.0,400.7 260.1,401.5"/>
<path class="l" style="stroke-width:2.2" d="M252.6,338.0 C253.6,339.0 256.8,341.8 258.9,343.8 C261.0,345.8 263.1,347.4 265.2,350.1 C267.3,352.8 269.6,356.6 271.4,360.1 C273.2,363.7 274.8,367.4 275.8,371.4 C276.8,375.4 277.4,380.5 277.3,383.9 C277.2,387.2 276.6,389.2 275.2,391.5 C273.8,393.8 269.9,396.7 268.9,397.7"/>
<path class="l" style="stroke-width:2.2" d="M260.8,336.9 C261.7,337.4 264.6,338.6 266.4,339.8 C268.2,341.0 269.3,341.5 271.4,343.8 C273.5,346.1 276.9,350.2 278.9,353.8 C280.9,357.4 282.3,361.1 283.3,365.1 C284.3,369.1 284.9,373.9 284.8,377.7 C284.7,381.5 283.5,385.2 282.7,387.7 C281.9,390.2 281.4,391.0 280.2,392.7 C278.9,394.4 276.9,396.2 275.2,397.7 C273.5,399.2 271.0,400.9 270.2,401.5"/>
<path class="l" style="stroke-width:2.8" d="M242.6,340.7 C244.1,340.3 248.5,338.8 251.4,338.2 C254.3,337.6 257.4,337.3 260.1,336.9 C262.8,336.5 265.2,335.4 267.7,335.7 C270.2,336.0 272.7,337.0 275.2,338.8 C277.7,340.6 280.5,343.4 282.7,346.3 C284.9,349.2 286.9,352.8 288.4,356.3 C289.9,359.9 290.8,363.8 291.5,367.6 C292.2,371.4 292.3,376.0 292.5,378.9 C292.7,381.8 293.1,382.9 292.7,385.2 C292.3,387.5 291.4,390.4 290.2,392.7 C288.9,395.0 287.7,397.1 285.2,399.0 C282.7,400.9 278.5,402.8 275.2,404.0 C271.9,405.2 268.3,405.7 265.2,406.5 C262.1,407.3 258.9,408.5 256.4,409.0 C253.9,409.5 251.1,409.5 250.1,409.6"/>
<path class="l" d="M180.0,252.5 L270.3,275.1"/>
<path class="l" d="M277.8,278.8 L294.1,282.6"/>
<path class="l" d="M301.6,285.1 L330.0,291.4"/>
<path class="l" d="M292.8,364.0 L330.0,355.3"/>
<path class="f" d="M309.0,301.0 L310.5,301.0 L310.5,302.3 L309.0,302.3Z"/>
<path class="l" style="stroke-width:2.8" d="M198.1,500.0 C195.6,499.9 192.6,500.7 190.6,502.3 C188.6,503.9 186.7,506.0 185.9,509.4 C185.1,512.8 184.8,518.9 185.6,522.5 C186.4,526.1 188.2,529.0 190.6,530.9 C193.0,532.8 197.0,533.9 200.0,533.8 C203.0,533.6 206.5,531.9 208.4,530.0 C210.3,528.1 211.0,525.6 211.3,522.5 C211.6,519.4 211.2,514.6 210.3,511.3 C209.4,508.0 207.6,504.7 205.6,502.8 C203.6,500.9 200.6,500.1 198.1,500.0Z"/>
<path class="l" d="M189.7,510.3 C189.5,511.4 188.7,514.5 188.8,516.9 C188.9,519.2 189.2,522.5 190.3,524.4 C191.4,526.3 194.5,527.8 195.3,528.5"/>
<path class="l" style="stroke-width:2.2" d="M192.1,512.8 C193.0,512.0 195.4,513.8 196.3,515.0 C197.2,516.2 197.8,518.7 197.4,520.3 C197.0,521.9 194.9,524.5 193.8,524.4 C192.7,524.3 191.3,521.6 191.0,519.7 C190.7,517.8 191.2,513.6 192.1,512.8Z"/>
<path class="l" style="stroke-width:2.6" d="M206.6,505.6 L243.1,496.3"/>
<path class="l" style="stroke-width:2.6" d="M212.2,522.9 C217.7,521.5 238.6,516.5 245.0,514.4 C251.4,512.3 249.3,512.1 250.6,510.3 C251.8,508.5 252.8,505.8 252.5,503.8 C252.2,501.8 250.4,499.4 248.8,498.1 C247.2,496.9 244.1,496.6 243.1,496.3"/>
<path class="l" style="stroke-width:2.2" d="M209.9,508.4 C210.2,509.5 210.8,512.9 211.6,515.0 C212.3,517.1 213.9,520.0 214.4,521.0"/>
<path class="l" style="stroke-width:2.2" d="M215.9,506.6 C216.0,507.7 216.1,510.9 216.5,513.1 C216.9,515.3 217.9,518.6 218.2,519.7"/>
<path class="l" style="stroke-width:2.2" d="M228.1,503.8 C228.2,504.9 228.2,508.1 228.7,510.3 C229.2,512.5 230.5,515.8 230.9,516.9"/>
<path class="l" style="stroke-width:2.2" d="M240.3,500.0 C240.3,501.2 240.1,505.0 240.5,507.5 C240.9,510.0 242.2,513.8 242.6,515.0"/>
<path class="l" d="M253.4,502.8 L289.6,494.4"/>
<path class="l" d="M150.0,507.5 L185.6,519.7"/>
<path class="l" style="stroke-width:3.4" d="M355.0,316.9 L366.3,316.9 L376.4,320.0 L378.2,323.2 L378.9,335.1 L387.0,362.0 L402.7,362.7 L410.2,367.7 L420.0,378.0"/>
<path class="l" style="stroke-width:3.4" d="M355.0,316.9 L354.4,331.9 L366.3,332.6 L370.7,335.1 L371.3,342.6 L377.6,371.4 L378.9,378.0"/>
<path class="l" style="stroke-width:1.6" d="M384.5,368.9 L384.5,378.0"/>
<path class="l" style="stroke-width:1.6" d="M402.7,368.9 L402.1,373.9 L400.2,378.0"/>
<path class="l" style="stroke-width:3.4" d="M378.3,370.0 L378.9,377.5 L384.5,381.0 L386.4,383.8 L380.8,387.3 L380.1,401.3 L387.7,405.1 L400.2,407.0 L410.2,413.9 L410.2,418.9 L391.4,416.4 L376.4,414.5 L368.2,412.0 L366.3,404.5 L359.5,399.5 L344.4,399.5 L341.9,413.9 L353.8,414.5 L358.2,417.6 L358.2,423.9 L355.1,427.7 L355.1,435.2 L358.2,430.2"/>
<path class="l" style="stroke-width:2.6" d="M385.2,381.9 L401.5,381.9"/>
<path class="l" d="M401.5,372.5 L401.5,382.5 L402.7,393.8"/>
<path class="l" style="stroke-width:2.6" d="M382.0,393.8 L401.5,393.8 L410.2,400.1"/>
<path class="l" style="stroke-width:2.2" d="M402.7,386.3 C403.8,386.2 408.8,391.5 410.2,393.8 C411.6,396.1 411.3,399.1 410.9,400.1 C410.5,401.2 409.0,401.0 407.7,400.1 C406.4,399.2 404.1,396.8 403.3,394.5 C402.5,392.2 401.6,386.4 402.7,386.3Z"/>
<path class="l" style="stroke-width:1.8" d="M377.6,422.7 L377.6,428.9"/>
<path class="l" d="M393.9,422.7 L393.9,425.2"/>
<path class="f" d="M361.3,427.1 L368.9,430.8 L362.0,432.7Z"/>
<path class="f" d="M388.9,435.0 L393.9,435.2 L398.9,438.0 L391.4,437.1Z"/>
<path class="l" style="stroke-width:3.4" d="M411.3,370.0 C413.8,372.7 421.7,381.1 426.3,386.3 C430.9,391.5 435.5,396.7 438.9,401.3 C442.2,405.9 444.6,409.7 446.4,413.9 C448.2,418.1 449.0,422.4 449.5,426.4 C450.0,430.4 449.5,436.1 449.5,438.0"/>
<path class="l" style="stroke-width:2.6" d="M418.2,417.6 C417.9,414.9 417.3,412.0 418.2,410.1 C419.1,408.2 421.8,406.6 423.8,406.4 C425.8,406.2 428.0,407.2 430.1,408.9 C432.2,410.6 435.0,413.7 436.4,416.4 C437.8,419.1 438.2,422.5 438.3,425.2 C438.4,427.9 437.9,431.0 437.0,432.7 C436.1,434.4 434.6,435.4 432.6,435.2 C430.6,435.0 427.2,432.9 425.1,431.4 C423.0,429.9 421.2,428.7 420.1,426.4 C419.0,424.1 418.5,420.3 418.2,417.6Z"/>
<path class="l" style="stroke-width:3.4" d="M385.3,435.0 C387.5,435.4 390.7,435.2 398.4,437.2 C406.1,439.2 424.0,445.6 431.3,447.0 C438.6,448.4 439.5,447.2 442.2,445.9 C444.9,444.6 446.4,442.7 447.7,439.4 C449.0,436.1 450.1,431.1 449.9,426.3 C449.7,421.6 447.2,413.5 446.6,410.9"/>
<path class="l" style="stroke-width:2.2" d="M348.1,440.5 L432.4,419.3"/>
<path class="l" style="stroke-width:1.8" d="M325.1,447.1 L340.2,443.1"/>
<path class="l" d="M307.6,451.4 L384.0,471.4"/>
<path class="l" d="M307.6,451.4 L317.0,450.0"/>
<path class="l" style="stroke-width:3" d="M374.0,469.0 L385.0,471.6"/>
<path class="l" d="M280.0,496.5 L343.9,480.7"/>
<path class="l" d="M352.7,477.7 L367.7,474.4"/>
<path class="l" d="M216.4,243.9 L307.8,221.3"/>
<path class="l" d="M193.8,249.6 L208.8,246.4"/>
<path class="l" d="M277.8,216.3 L290.3,221.3"/>
<path class="l" d="M330.0,291.4 L392.5,308.0"/>
<path class="l" d="M401.9,310.5 L414.4,313.6"/>
<path class="l" d="M422.3,316.5 L455.2,324.3"/>
<path class="l" d="M455.2,324.3 L386.2,340.0"/>
<path class="l" d="M300.0,362.9 L361.1,347.2"/>
<path class="l" style="stroke-width:2.2" d="M475.5,358.2 L427.0,380.1"/>
<path class="l" style="stroke-width:2.2" d="M450.5,413.0 L483.4,405.2"/>
<ellipse class="l" style="stroke-width:2.85" cx="118.8" cy="56.3" rx="18.3" ry="5.4" transform="rotate(2 118.8 56.3)"/>
<path class="l" style="stroke-width:3" d="M102.0,53.0 L112.0,51.2 L122.0,51.2"/>
<path class="l" style="stroke-width:2.85" d="M90.5,55.5 C90.8,56.6 89.8,60.4 92.6,62.3 C95.4,64.1 101.0,65.4 107.2,66.6 C113.4,67.8 125.8,68.8 129.5,69.2"/>
<path class="l" style="stroke-width:2.85" d="M129.5,69.2 L128.7,64.5"/>
<path class="l" style="stroke-width:2.85" d="M365.2,120.3 L396.5,131.6 L407.8,123.5"/>
<path class="l" style="stroke-width:2.85" d="M134.6,6.9 L97.5,16.3 L117.0,22.2 L128.0,23.4 L138.3,22.8"/>
<path class="l" style="stroke-width:2.85" d="M182.5,31.3 C184.0,32.1 189.4,34.0 191.3,36.3 C193.2,38.6 195.1,42.7 193.8,45.0 C192.6,47.3 187.6,49.4 183.8,50.0 C180.1,50.6 174.0,48.2 171.3,48.8 C168.6,49.4 167.3,51.9 167.5,53.8 C167.7,55.7 169.8,58.5 172.5,60.0 C175.2,61.5 181.9,62.1 183.8,62.5"/>
<defs><clipPath id="c1" clipPathUnits="userSpaceOnUse"><path d="M477.1,325.0 H520.6999999999999 V355.0 H517.1 V347.8 H509.6 V355.0 H477.1 Z"/></clipPath><clipPath id="c2" clipPathUnits="userSpaceOnUse"><path d="M91.1,484.7 H119.1 V514.7 H115.5 V507.5 H108.0 V514.7 H91.1 Z M123.2,484.7 H145.1 V514.7 H124.7 V506.5 H123.2 Z"/></clipPath></defs>
<g font-size="30.4" stroke="#000" stroke-width="0.9" opacity="0.999">
<text transform="translate(0,304.9) scale(0.917,1)" x="98.15 116.14 134.35">320</text>
<g clip-path="url(#c1)"><text transform="translate(0,351.0) scale(0.917,1)" x="524.65 542.53 557.36">321</text></g>
<g clip-path="url(#c2)"><text transform="translate(0,510.7) scale(0.917,1)" x="103.71 119.41 134.24">310</text></g>
</g>

</svg>
</body></html>
